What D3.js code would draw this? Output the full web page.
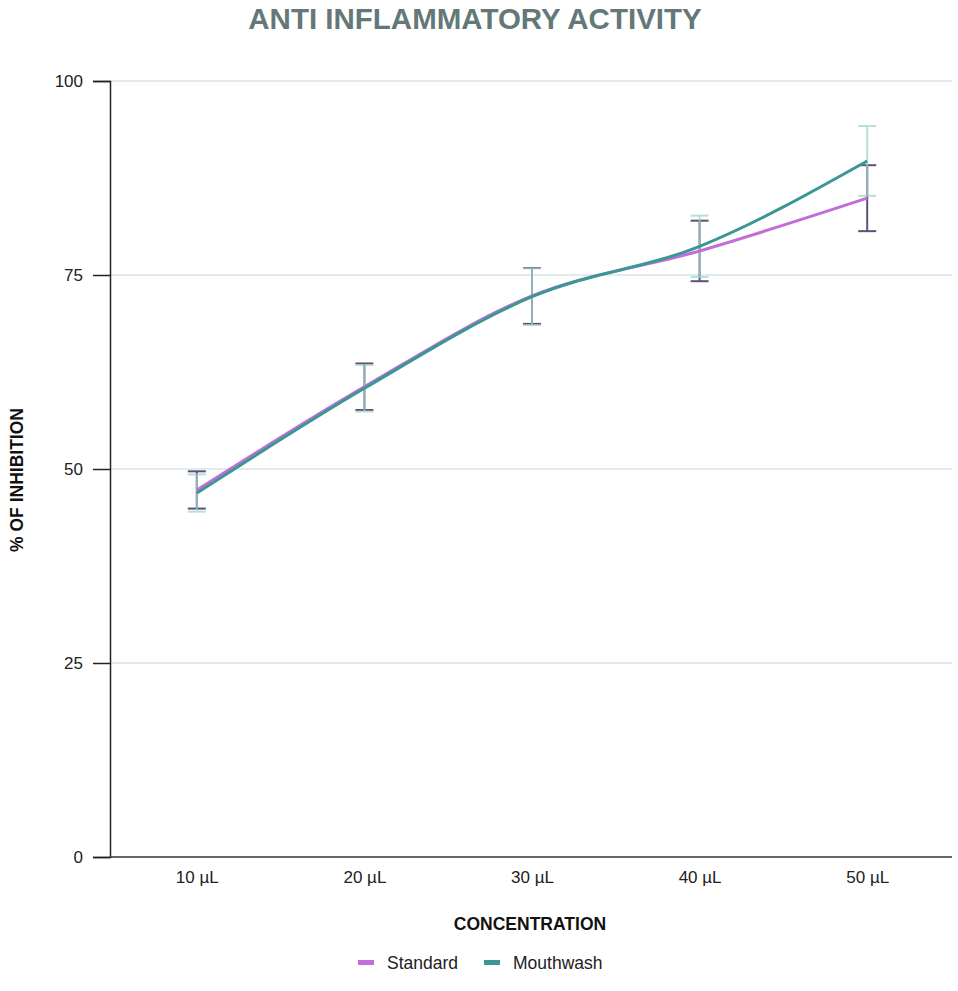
<!DOCTYPE html>
<html>
<head>
<meta charset="utf-8">
<script src="https://cdn.jsdelivr.net/npm/d3@7"></script>
<style>
  html, body { margin: 0; padding: 0; background: #fff; }
  svg { display: block; font-family: "Liberation Sans", Arial, sans-serif; }
</style>
</head>
<body>
<svg id="chart" width="958" height="991"></svg>
<script>
const categories = ["10 µL", "20 µL", "30 µL", "40 µL", "50 µL"];
const standardValues = [47.3, 60.6, 72.3, 78.1, 84.9];
const standardErrors = [2.4, 3.0, 3.6, 3.9, 4.25];
const mouthwashValues = [46.9, 60.4, 72.2, 78.7, 89.7];
const mouthwashErrors = [2.4, 3.0, 3.65, 3.95, 4.5];
const yTicks = [0, 25, 50, 75, 100];
const seriesNames = ["Standard", "Mouthwash"];

const svg = d3.select("#chart");
const plotLeft = 110, plotRight = 952, plotTop = 81, plotBottom = 857;

const x = d3.scalePoint().domain(categories).range([113, 951]).padding(0.5);
const y = d3.scaleLinear().domain([0, 100]).range([plotBottom, plotTop]);

// Title
svg.append("text").attr("x", 475).attr("y", 29).attr("text-anchor", "middle")
  .attr("font-size", 29.5).attr("font-weight", "bold").attr("fill", "#647878")
  .text("ANTI INFLAMMATORY ACTIVITY");

// gridlines
svg.append("g").selectAll("line").data(yTicks.filter(d => d > 0)).join("line")
  .attr("x1", plotLeft).attr("x2", plotRight)
  .attr("y1", d => y(d)).attr("y2", d => y(d))
  .attr("stroke", "#c6d8d8").attr("stroke-width", 1);

// Y axis
const yAxis = svg.append("g").attr("transform", `translate(${plotLeft},0)`)
  .call(d3.axisLeft(y).tickValues(yTicks).tickSize(17).tickPadding(10));
yAxis.select(".domain").attr("stroke", "#222").attr("stroke-width", 1.5);
yAxis.selectAll(".tick line").attr("stroke", "#222").attr("stroke-width", 1.5);
yAxis.selectAll("text").attr("font-size", 17).attr("fill", "#222")
  .attr("font-family", "Liberation Sans, Arial, sans-serif");

// X axis
const xAxis = svg.append("g").attr("transform", `translate(0,${plotBottom})`)
  .call(d3.axisBottom(x).tickSize(0).tickPadding(14));
xAxis.select(".domain").attr("d", `M${plotLeft},0H${plotRight}`).attr("stroke", "#333").attr("stroke-width", 1.5);
xAxis.selectAll("text").attr("font-size", 17).attr("fill", "#222")
  .attr("font-family", "Liberation Sans, Arial, sans-serif");

// Axis titles
svg.append("text").attr("x", 530).attr("y", 930).attr("text-anchor", "middle")
  .attr("font-size", 17.5).attr("font-weight", "bold").attr("fill", "#111")
  .text("CONCENTRATION");
svg.append("text").attr("transform", `translate(23,480) rotate(-90)`).attr("text-anchor", "middle")
  .attr("font-size", 17.5).attr("font-weight", "bold").attr("fill", "#111")
  .text("% OF INHIBITION");

// error bars
function errorBars(vals, errs, color, opacity) {
  const g = svg.append("g").attr("stroke", color).attr("stroke-width", 2).attr("opacity", opacity);
  categories.forEach((c, i) => {
    const cx = x(c), hi = y(vals[i] + errs[i]), lo = y(vals[i] - errs[i]);
    g.append("line").attr("x1", cx).attr("x2", cx).attr("y1", hi).attr("y2", lo);
    g.append("line").attr("x1", cx - 9).attr("x2", cx + 9).attr("y1", hi).attr("y2", hi);
    g.append("line").attr("x1", cx - 9).attr("x2", cx + 9).attr("y1", lo).attr("y2", lo);
  });
}
errorBars(standardValues, standardErrors, "#4d3f6a", 0.9);
errorBars(mouthwashValues, mouthwashErrors, "#9ed6cc", 0.75);

// lines
const line = d3.line().x((d, i) => x(categories[i])).y(d => y(d)).curve(d3.curveMonotoneX);
svg.append("path").datum(standardValues).attr("d", line)
  .attr("fill", "none").attr("stroke", "#c36ed8").attr("stroke-width", 3);
svg.append("path").datum(mouthwashValues).attr("d", line)
  .attr("fill", "none").attr("stroke", "#3a9794").attr("stroke-width", 3);

// legend
const legendColors = ["#c36ed8", "#3a9794"];
const legendX = [358, 484];
seriesNames.forEach((n, i) => {
  svg.append("rect").attr("x", legendX[i]).attr("y", 960).attr("width", 16).attr("height", 5)
    .attr("fill", legendColors[i]);
  svg.append("text").attr("x", legendX[i] + 29).attr("y", 969).attr("font-size", 17.5)
    .attr("fill", "#222").text(n);
});
</script>
</body>
</html>
